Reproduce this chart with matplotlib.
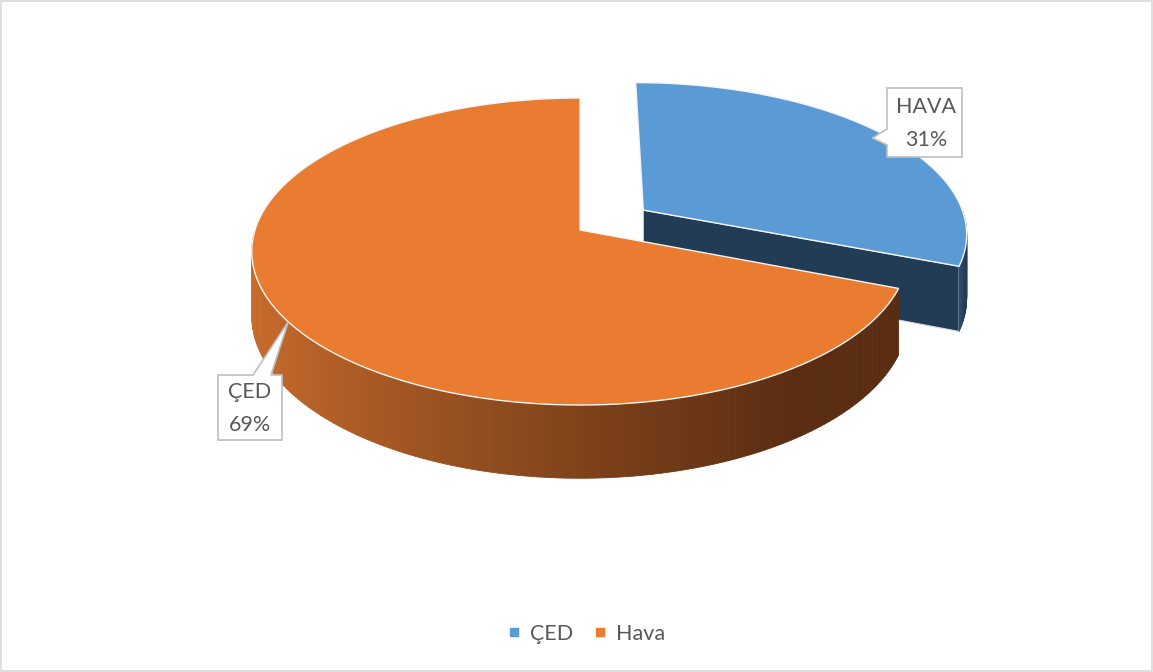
import numpy as np
import matplotlib.pyplot as plt
from matplotlib.patches import Polygon, Rectangle
from matplotlib.lines import Line2D
from matplotlib.colors import to_rgb

plt.rcParams['font.family'] = ['Lato', 'DejaVu Sans']

# data
slice_labels = ['HAVA', 'ÇED']
shares = [31, 69]
legend_names = ['ÇED', 'Hava']
legend_colors = ['#5b9bd5', '#ed7d31']

# style per slice
top_colors = ['#5b9bd5', '#e97c30']
cut_colors = ['#223c56', '#7a3f18']
wall_light = ['#2f5478', '#c96c2c']
wall_dark = ['#223c56', '#5a2d12']
explode = [0.24, 0.0]

# 3d projection (pixel space)
CX, CY = 580, 230
RX, RY, DEPTH, K = 325, 150.5, 63, 0.14


def proj(u, v, z):
    d = 1 + K * v
    return CX + RX * u / d, CY + (-RY * v + DEPTH * z) / d


def mix(c1, c2, f):
    a, b = np.array(to_rgb(c1)), np.array(to_rgb(c2))
    return tuple(a + (b - a) * f)


fig = plt.figure(figsize=(11.53, 6.72), dpi=100)
ax = fig.add_axes([0, 0, 1, 1])
ax.set_xlim(0, 1153)
ax.set_ylim(672, 0)
ax.axis('off')

# start at 12 o'clock, go clockwise
total = sum(shares)
angles = []
t = 90.0
for s in shares:
    t1 = t - 360.0 * s / total
    angles.append((t1, t))
    t = t1

tips = {}
order = sorted(range(len(shares)),
               key=lambda i: -np.sin(np.radians(sum(angles[i]) / 2)))
for i in order:
    a1, a2 = angles[i]
    mid = np.radians((a1 + a2) / 2)
    ox, oy = explode[i] * np.cos(mid), explode[i] * np.sin(mid)
    th = np.radians(np.linspace(a1, a2, 240))
    u, v = ox + np.cos(th), oy + np.sin(th)

    # radial cut faces
    for a, sgn in ((a1, 1), (a2, -1)):
        ar = np.radians(a)
        if sgn * np.cos(ar) > 1e-6:
            pts = [proj(ox, oy, 0), proj(ox + np.cos(ar), oy + np.sin(ar), 0),
                   proj(ox + np.cos(ar), oy + np.sin(ar), 1), proj(ox, oy, 1)]
            ax.add_patch(Polygon(pts, closed=True, fc=cut_colors[i],
                                 ec='#d0d8e0', lw=0.8))

    # outer wall with shading
    vis = np.sin(th) < 0
    idx = np.where(vis)[0]
    if len(idx) > 1:
        xs_all = [proj(u[j], v[j], 0)[0] for j in idx]
        xmin, xmax = min(xs_all), max(xs_all)
        for j in range(len(th) - 1):
            if not (vis[j] and vis[j + 1]):
                continue
            p = [proj(u[j], v[j], 0), proj(u[j + 1], v[j + 1], 0),
                 proj(u[j + 1], v[j + 1], 1), proj(u[j], v[j], 1)]
            f = (p[0][0] - xmin) / max(xmax - xmin, 1)
            c = mix(wall_light[i], wall_dark[i], min(1, f ** 0.8 * 1.15))
            ax.add_patch(Polygon(p, closed=True, fc=c, ec=c, lw=0.6))

    # top face
    top = [proj(ox, oy, 0)] + [proj(uu, vv, 0) for uu, vv in zip(u, v)]
    ax.add_patch(Polygon(top, closed=True, fc=top_colors[i],
                         ec='#f4f4f4', lw=1.0))

    r = 0.95 if explode[i] > 0 else 1.0
    tips[i] = proj(ox + r * np.cos(mid), oy + r * np.sin(mid), 0)

# data label callouts
box_style = dict(fc='white', ec='#bfbfbf', lw=1.2, zorder=5)
txt_style = dict(ha='center', va='center', fontsize=15.5, color='#595959',
                 linespacing=1.85, zorder=6)
# HAVA
tx, ty = tips[0]
bx0, bx1, by0, by1 = 887, 962, 88, 157
ax.add_patch(Polygon([(bx0, by0), (bx1, by0), (bx1, by1), (bx0, by1),
                      (bx0, ty + 7), (tx, ty), (bx0, ty - 9)],
                     closed=True, **box_style))
ax.text((bx0 + bx1) / 2 + 2, (by0 + by1) / 2 + 1,
        f'{slice_labels[0]}\n{shares[0]}%', **txt_style)
# ÇED
tx, ty = tips[1]
bx0, bx1, by0, by1 = 218, 282, 375, 440
ax.add_patch(Polygon([(bx0, by0), (253, by0), (tx, ty), (271, by0),
                      (bx1, by0), (bx1, by1), (bx0, by1)],
                     closed=True, **box_style))
ax.text((bx0 + bx1) / 2, (by0 + by1) / 2 + 1,
        f'{slice_labels[1]}\n{shares[1]}%', **txt_style)

handles = [Line2D([], [], marker='s', ls='', color=c, markersize=6)
           for c in legend_colors]
fig.legend(handles, legend_names, loc='center', bbox_to_anchor=(0.509, 1 - 634 / 672),
           ncol=2, frameon=False, fontsize=15.5, handlelength=0.5,
           handletextpad=0.5, columnspacing=1.0, labelcolor='#595959')

fig.add_artist(Rectangle((0.001, 0.001), 0.998, 0.998, transform=fig.transFigure,
                         fill=False, ec='#d9d9d9', lw=1.2))

fig.savefig('out.png', dpi=100)
